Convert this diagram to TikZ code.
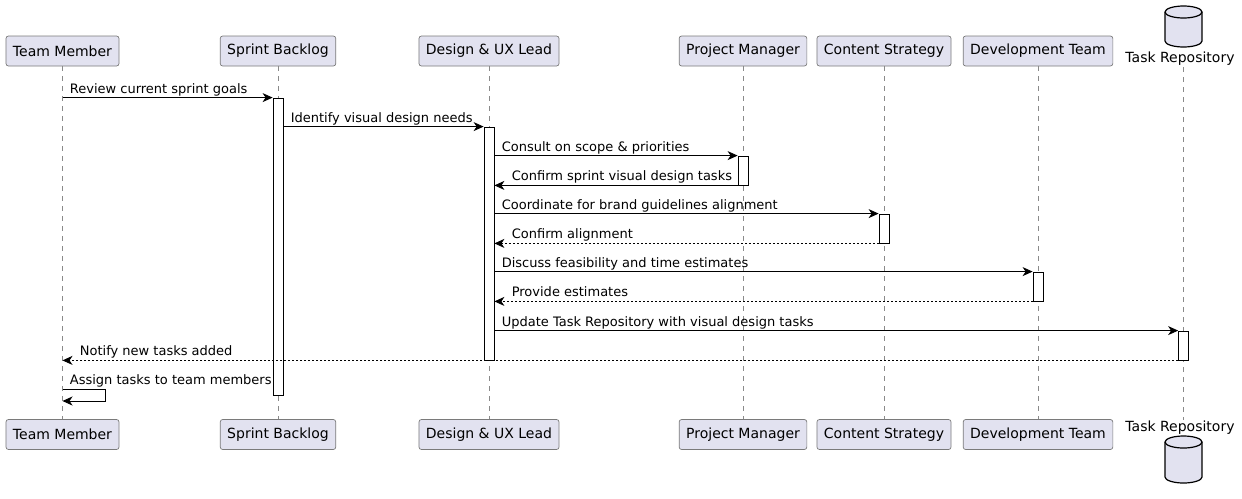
\documentclass[tikz,border=0pt]{standalone}
\usepackage{fontspec}
\setmainfont{DejaVu Sans}
\usetikzlibrary{arrows.meta}
\definecolor{partfill}{HTML}{E2E2F0}
\definecolor{partline}{HTML}{7A7A7A}
\definecolor{lifeline}{HTML}{8A8A8A}
\begin{document}
\begin{tikzpicture}[x=1pt,y=-1pt,
    part/.style={draw=partline,line width=0.7pt,fill=partfill,rounded corners=2.5pt,
      minimum height=30pt,inner xsep=7pt,font=\fontsize{14}{16}\selectfont},
    life/.style={draw=lifeline,line width=0.7pt,dash pattern=on 5pt off 5pt},
    act/.style={draw=black,fill=white,line width=0.8pt,minimum width=10pt,inner sep=0pt},
    msg/.style={draw=black,line width=0.8pt,-{Stealth[length=10pt,width=9pt,inset=3pt]}},
    ret/.style={msg,dash pattern=on 2pt off 2pt},
    lbl/.style={anchor=base west,xshift=7pt,yshift=4.5pt,inner sep=0pt,font=\fontsize{13}{15}\selectfont},
    rlbl/.style={lbl,xshift=10pt},
    store/.style={draw=black,line width=1.2pt,fill=partfill}]
    \useasboundingbox (0,0) rectangle (1242,498);
    \node[part] (tm) at (62.5,51) {Team Member};
    \node[part] (sb) at (278,51) {Sprint Backlog};
    \node[part] (dx) at (489,51) {Design \& UX Lead};
    \node[part] (pm) at (743,51) {Project Manager};
    \node[part] (cs) at (884,51) {Content Strategy};
    \node[part] (dt) at (1038,51) {Development Team};
    \node[inner sep=0pt,font=\fontsize{14}{16}\selectfont] (tr) at (1180,59) {Task Repository};
    \node[part] (tmb) at (62.5,434.5) {Team Member};
    \node[part] (sbb) at (278,434.5) {Sprint Backlog};
    \node[part] (dxb) at (489,434.5) {Design \& UX Lead};
    \node[part] (pmb) at (743,434.5) {Project Manager};
    \node[part] (csb) at (884,434.5) {Content Strategy};
    \node[part] (dtb) at (1038,434.5) {Development Team};
    \node[inner sep=0pt,font=\fontsize{14}{16}\selectfont] (trb) at (1180,428) {Task Repository};
    \draw[store] (1165,12) -- (1165,41) arc[start angle=180,end angle=0,x radius=18.5,y radius=6]
      -- (1202,12) arc[start angle=0,end angle=-180,x radius=18.5,y radius=6] -- cycle;
    \draw[store] (1165,12) arc[start angle=180,end angle=0,x radius=18.5,y radius=6];
    \draw[store] (1165,442) -- (1165,477) arc[start angle=180,end angle=0,x radius=18.5,y radius=6]
      -- (1202,442) arc[start angle=0,end angle=-180,x radius=18.5,y radius=6] -- cycle;
    \draw[store] (1165,442) arc[start angle=180,end angle=0,x radius=18.5,y radius=6];
    \draw[life] (tm) -- (tmb);
    \draw[life] (sb) -- (sbb);
    \draw[life] (dx) -- (dxb);
    \draw[life] (pm) -- (pmb);
    \draw[life] (cs) -- (csb);
    \draw[life] (dt) -- (dtb);
    \draw[life] (1183.5,67) -- (1183.5,420);
    \node[act,minimum height=297pt] (sbact) at (278,246.5) {};
    \node[act,minimum height=233pt] (dxact) at (489,243.5) {};
    \node[act,minimum height=29pt] (pmact) at (743,170.5) {};
    \node[act,minimum height=29pt] (csact) at (884,228.5) {};
    \node[act,minimum height=29pt] (dtact) at (1038,286.5) {};
    \node[act,minimum height=29pt] (tract) at (1183.5,345.5) {};
    \draw[msg] (tm |- sbact.north) node[lbl] {Review current sprint goals} -- (sbact.north west);
    \draw[msg] (sbact.east |- dxact.north) node[lbl] {Identify visual design needs} -- (dxact.north west);
    \draw[msg] (dxact.east |- pmact.north) node[lbl] {Consult on scope \& priorities} -- (pmact.north west);
    \draw[msg] (pmact.south west) -- (dxact.east |- pmact.south) node[rlbl] {Confirm sprint visual design tasks};
    \draw[msg] (dxact.east |- csact.north) node[lbl] {Coordinate for brand guidelines alignment} -- (csact.north west);
    \draw[ret] (csact.south west) -- (dxact.east |- csact.south) node[rlbl] {Confirm alignment};
    \draw[msg] (dxact.east |- dtact.north) node[lbl] {Discuss feasibility and time estimates} -- (dtact.north west);
    \draw[ret] (dtact.south west) -- (dxact.east |- dtact.south) node[rlbl] {Provide estimates};
    \draw[msg] (dxact.east |- tract.north) node[lbl] {Update Task Repository with visual design tasks} -- (tract.north west);
    \draw[ret] (tract.south west) -- (tm |- tract.south) node[rlbl] {Notify new tasks added};
    \coordinate (self) at (105,389);
    \coordinate (selfend) at (105,401);
    \draw[msg] (tm |- self) node[lbl] {Assign tasks to team members} -- (self) -- (selfend) -- (tm |- selfend);
\end{tikzpicture}
\end{document}
